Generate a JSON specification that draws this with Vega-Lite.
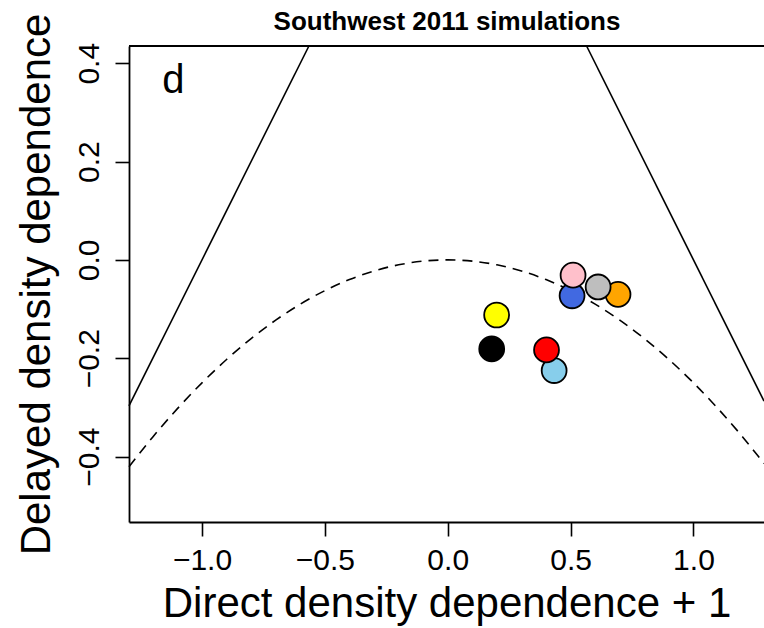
{
  "$schema": "https://vega.github.io/schema/vega-lite/v6.json",
  "width": 635,
  "height": 476,
  "autosize": {"type": "none"},
  "padding": {"left": 129, "top": 46, "right": 0, "bottom": 106},
  "background": "white",
  "config": {
    "font": "Liberation Sans",
    "view": {"stroke": null},
    "axis": {
      "grid": false,
      "domainColor": "black",
      "domainWidth": 1.8,
      "tickColor": "black",
      "tickWidth": 1.6,
      "tickSize": 14,
      "labelFont": "Liberation Sans",
      "labelFontSize": 30,
      "labelColor": "black",
      "titleFont": "Liberation Sans",
      "titleFontSize": 42,
      "titleFontWeight": "normal",
      "titleColor": "black",
      "labelFlush": false,
      "labelOverlap": false
    }
  },
  "encoding": {
    "x": {"field": "x", "type": "quantitative",
          "scale": {"domain": [-1.297, 1.287], "nice": false, "zero": false},
          "axis": {"orient": "bottom", "values": [-1, -0.5, 0, 0.5, 1], "format": ".1f", "labelPadding": 9,
                   "title": "Direct density dependence + 1", "titlePadding": 8}},
    "y": {"field": "y", "type": "quantitative",
          "scale": {"domain": [-0.533, 0.435], "nice": false, "zero": false},
          "axis": {"orient": "left", "values": [-0.4, -0.2, 0, 0.2, 0.4], "format": ".1f", "labelAngle": -90,
                   "labelAlign": "center", "labelBaseline": "bottom", "labelPadding": 11,
                   "title": "Delayed density dependence", "titlePadding": 16}}
  },
  "layer": [
    {
      "data": {"values": [
        {"seg": "left", "x": -1.297, "y": -0.297}, {"seg": "left", "x": -0.565, "y": 0.435},
        {"seg": "right", "x": 0.565, "y": 0.435}, {"seg": "right", "x": 1.287, "y": -0.287}
      ]},
      "mark": {"type": "line", "color": "black", "strokeWidth": 1.6},
      "encoding": {"detail": {"field": "seg"}}
    },
    {
      "data": {"values": [
        {"x": -1.297, "y": -0.4206}, {"x": -1.2, "y": -0.36}, {"x": -1.1, "y": -0.3025},
        {"x": -1.0, "y": -0.25}, {"x": -0.9, "y": -0.2025}, {"x": -0.8, "y": -0.16}, {"x": -0.7, "y": -0.1225},
        {"x": -0.6, "y": -0.09}, {"x": -0.5, "y": -0.0625}, {"x": -0.4, "y": -0.04}, {"x": -0.3, "y": -0.0225},
        {"x": -0.2, "y": -0.01}, {"x": -0.1, "y": -0.0025}, {"x": 0, "y": 0}, {"x": 0.1, "y": -0.0025},
        {"x": 0.2, "y": -0.01}, {"x": 0.3, "y": -0.0225}, {"x": 0.4, "y": -0.04}, {"x": 0.5, "y": -0.0625},
        {"x": 0.6, "y": -0.09}, {"x": 0.7, "y": -0.1225}, {"x": 0.8, "y": -0.16}, {"x": 0.9, "y": -0.2025},
        {"x": 1.0, "y": -0.25}, {"x": 1.1, "y": -0.3025}, {"x": 1.2, "y": -0.36}, {"x": 1.287, "y": -0.4141}
      ]},
      "mark": {"type": "line", "color": "black", "strokeWidth": 1.6, "strokeDash": [10, 7], "interpolate": "monotone"},
      "encoding": {}
    },
    {
      "data": {"values": [{"x": -1.297, "xe": 1.287, "y": 0.435}]},
      "mark": {"type": "rule", "color": "black", "strokeWidth": 1.8},
      "encoding": {"x2": {"field": "xe"}}
    },
    {
      "data": {"values": [
        {"sim": "s1", "x": 0.179, "y": -0.181},
        {"sim": "s2", "x": 0.199, "y": -0.112},
        {"sim": "s3", "x": 0.433, "y": -0.225},
        {"sim": "s4", "x": 0.402, "y": -0.183},
        {"sim": "s5", "x": 0.693, "y": -0.070},
        {"sim": "s6", "x": 0.506, "y": -0.073},
        {"sim": "s7", "x": 0.612, "y": -0.055},
        {"sim": "s8", "x": 0.510, "y": -0.031}
      ]},
      "mark": {"type": "point", "filled": true, "shape": "circle", "size": 620, "stroke": "black", "strokeWidth": 1.8, "opacity": 1},
      "encoding": {
        "fill": {"field": "sim", "type": "nominal", "legend": null,
                 "scale": {"domain": ["s1", "s2", "s3", "s4", "s5", "s6", "s7", "s8"],
                           "range": ["#000000", "#FFFF00", "#87CEEB", "#FF0000", "#FFA500", "#4169E1", "#BEBEBE", "#FFC0CB"]}},
        "stroke": {"value": "black"}
      }
    },
    {
      "data": {"values": [{"label": "d", "x": -1.116, "y": 0.339}]},
      "mark": {"type": "text", "fontSize": 40, "font": "Liberation Sans", "color": "black", "align": "center", "baseline": "alphabetic"},
      "encoding": {"text": {"field": "label"}}
    },
    {
      "data": {"values": [{"label": "Southwest 2011 simulations", "x": -0.003, "y": 0.4677}]},
      "mark": {"type": "text", "fontSize": 26, "fontWeight": "bold", "font": "Liberation Sans", "color": "black", "align": "center", "baseline": "alphabetic"},
      "encoding": {"text": {"field": "label"}}
    }
  ]
}
